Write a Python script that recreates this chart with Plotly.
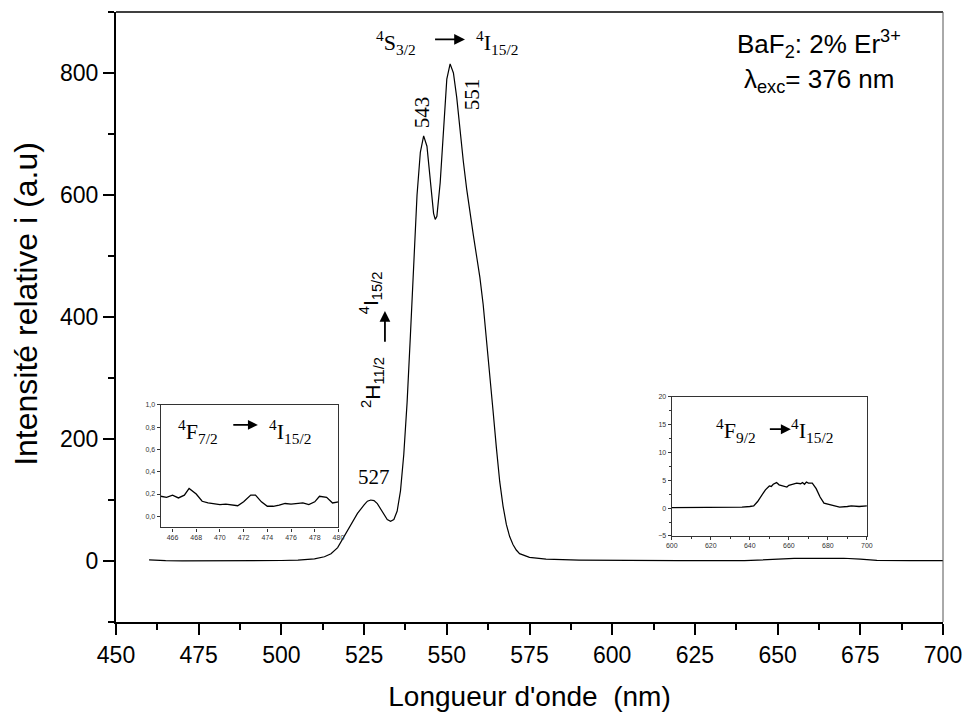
import plotly.graph_objects as go

# Emission spectrum of BaF2:2% Er3+ under 376 nm excitation
wavelength = [460, 462, 465, 470, 475, 480, 490, 500, 505, 510, 513, 515, 517, 519,
              521, 523, 525, 526, 527, 528, 529, 530, 531, 532, 533, 534, 535, 536,
              537, 538, 539, 540, 541, 542, 543, 544, 545, 546, 546.5, 547, 548, 549,
              550, 551, 552, 553, 554, 555, 556, 557, 558, 559, 560, 561, 562, 563,
              564, 565, 566, 567, 568, 569, 570, 571, 572, 575, 580, 590, 600, 620, 640,
              645, 650, 655, 660, 665, 670, 675, 680, 690, 700]
intensity = [2.0, 1.0, 0.5, 0.3, 0.2, 0.2, 0.3, 0.8, 1.5, 3.5, 7, 12, 22, 40,
             60, 78, 92, 98, 100, 99, 94, 85, 76, 68, 65, 68, 82, 115,
             175, 260, 370, 490, 600, 670, 697, 680, 620, 570, 560, 565, 620, 710,
             790, 815, 800, 760, 705, 655, 610, 570, 535, 500, 465, 420, 365, 305,
             245, 185, 130, 90, 60, 40, 27, 18, 12, 6, 3, 1.5, 1.0, 0.5, 0.5,
             1.5, 3.5, 4.2, 4.2, 4.5, 4.5, 3.0, 1.0, 0.5, 0.5]

# Detail of the 4F7/2 -> 4I15/2 band
wl_blue = [465, 465.5, 466, 466.5, 467, 467.4, 468, 468.5, 469, 469.5, 470, 470.5,
           471, 471.5, 472, 472.6, 473, 473.5, 474, 474.5, 475, 475.5, 476, 476.5,
           477, 477.5, 478, 478.4, 479, 479.5, 480]
int_blue = [0.18, 0.17, 0.19, 0.165, 0.19, 0.25, 0.2, 0.135, 0.12, 0.11, 0.105, 0.11,
            0.10, 0.095, 0.13, 0.19, 0.19, 0.13, 0.09, 0.09, 0.10, 0.115, 0.11, 0.115,
            0.12, 0.105, 0.13, 0.18, 0.17, 0.12, 0.13]

# Detail of the 4F9/2 -> 4I15/2 band
wl_red = [600, 604, 608, 612, 616, 620, 624, 628, 632, 636, 640, 642, 644, 646,
          648, 650, 651, 652, 653.7, 655, 656, 658, 659, 660, 662, 664, 666, 667,
          668, 669, 670, 672, 674, 676, 678, 680, 682, 684, 686, 690, 692, 696, 700]
int_red = [0.1, 0.1, 0.2, 0.1, 0.1, 0.2, 0.1, 0.1, 0.1, 0.2, 0.3, 0.4, 1.2, 2.2,
           3.3, 4.0, 3.9, 4.3, 4.6, 4.2, 4.1, 3.9, 3.8, 4.1, 4.3, 4.5, 4.4, 4.6,
           4.3, 4.7, 4.5, 4.5, 3.5, 2.0, 0.9, 0.7, 0.6, 0.3, 0.2, 0.3, 0.4, 0.3, 0.4]

x_ticks = [450, 475, 500, 525, 550, 575, 600, 625, 650, 675, 700]
y_ticks = [0, 200, 400, 600, 800]

SANS = "Liberation Sans, Arial, sans-serif"
SERIF = "Liberation Serif, Times New Roman, serif"

fig = go.Figure()
fig.add_trace(go.Scatter(x=wavelength, y=intensity, mode="lines",
                         line=dict(color="black", width=1.2), showlegend=False))
fig.add_trace(go.Scatter(x=wl_blue, y=int_blue, mode="lines", xaxis="x2", yaxis="y2",
                         line=dict(color="black", width=1.3), showlegend=False))
fig.add_trace(go.Scatter(x=wl_red, y=int_red, mode="lines", xaxis="x3", yaxis="y3",
                         line=dict(color="black", width=1.3), showlegend=False))

main_axis = dict(showline=True, linecolor="black", linewidth=2, ticks="outside",
                 ticklen=11, tickwidth=2, tickcolor="black", showgrid=False,
                 zeroline=False, automargin=False,
                 tickfont=dict(family=SANS, size=23, color="black"),
                 title_font=dict(family=SANS, size=28, color="black"))
inset_axis = dict(showline=True, linecolor="#333", linewidth=1.2, mirror=True,
                  ticks="outside", ticklen=3, tickwidth=1, tickcolor="#333",
                  showgrid=False, zeroline=False, automargin=False,
                  tickfont=dict(family=SANS, size=7, color="#333"))

fig.update_layout(
    width=964, height=713,
    margin=dict(l=116, r=21, t=12, b=91, autoexpand=False),
    paper_bgcolor="white", plot_bgcolor="white",
    font=dict(family=SANS, color="black"),
    separators=",.",
    xaxis=dict(main_axis, range=[450, 700], tickvals=x_ticks,
               minor=dict(dtick=12.5, ticks="outside", ticklen=6, tickwidth=2,
                          tickcolor="black"),
               title=dict(text="Longueur d'onde  (nm)", standoff=20)),
    yaxis=dict(main_axis, range=[-100, 900], tickvals=y_ticks,
               minor=dict(dtick=100, ticks="outside", ticklen=6, tickwidth=2,
                          tickcolor="black")),
    xaxis2=dict(inset_axis, domain=[0.054, 0.269], anchor="y2", range=[465, 480],
                tickvals=[466, 468, 470, 472, 474, 476, 478, 480]),
    yaxis2=dict(inset_axis, domain=[0.155, 0.356], anchor="x2", range=[-0.1, 1.0],
                tickvals=[0, 0.2, 0.4, 0.6, 0.8, 1.0], tickformat=".1f"),
    xaxis3=dict(inset_axis, domain=[0.672, 0.908], anchor="y3", range=[600, 700],
                tickvals=[600, 620, 640, 660, 680, 700],
                minor=dict(dtick=10, ticks="outside", ticklen=2, tickcolor="#333")),
    yaxis3=dict(inset_axis, domain=[0.141, 0.369], anchor="x3", range=[-5, 20],
                tickvals=[-5, 0, 5, 10, 15, 20],
                minor=dict(dtick=2.5, ticks="outside", ticklen=2, tickcolor="#333")),
)

# thin frame on the top and right of the main plot
fig.add_shape(type="line", xref="paper", yref="paper", x0=0, x1=1, y0=1, y1=1,
              line=dict(color="black", width=1.5))
fig.add_shape(type="line", xref="paper", yref="paper", x0=1, x1=1, y0=0, y1=1,
              line=dict(color="#555", width=1))

serif_big = dict(family=SERIF, size=22, color="black")
sans_big = dict(family=SANS, size=26, color="black")
sans_mid = dict(family=SANS, size=21, color="black")
serif_num = dict(family=SERIF, size=21, color="black")

annotations = [
    # y axis title, set slightly above the axis centre
    dict(x=-0.108, y=0.521, xref="paper", yref="paper", text="Intensité relative i (a.u)",
         textangle=-90, xanchor="center", yanchor="middle",
         font=dict(family=SANS, size=32, color="black")),
    # green transition
    dict(x=534.5, y=850, text="<sup>4</sup>S<sub>3/2</sub>", font=serif_big),
    dict(x=565.2, y=850, text="<sup>4</sup>I<sub>15/2</sub>", font=serif_big),
    dict(x=555.5, y=855, ax=546, ay=855, axref="x", ayref="y", text="",
         showarrow=True, arrowhead=2, arrowsize=1.2, arrowwidth=1.8, arrowcolor="black"),
    # peak labels
    dict(x=542.6, y=736, text="543", textangle=-90, font=serif_num),
    dict(x=557.6, y=765, text="551", textangle=-90, font=serif_num),
    dict(x=527.9, y=138, text="527", font=serif_num),
    # 2H11/2 transition, written vertically
    dict(x=527.7, y=292, text="<sup>2</sup>H<sub>11/2</sub>", textangle=-90, font=sans_mid),
    dict(x=526.8, y=439, text="<sup>4</sup>I<sub>15/2</sub>", textangle=-90, font=sans_mid),
    dict(x=531.3, y=410, ax=531.3, ay=357, axref="x", ayref="y", text="",
         showarrow=True, arrowhead=2, arrowsize=1.2, arrowwidth=1.8, arrowcolor="black"),
    # sample description
    dict(x=662.6, y=847, text="BaF<sub>2</sub>: 2% Er<sup>3+</sup>", font=sans_big),
    dict(x=662.6, y=788, text="λ<sub>exc</sub>= 376 nm", font=sans_big),
    # left inset label
    dict(x=468.15, y=0.76, xref="x2", yref="y2", text="<sup>4</sup>F<sub>7/2</sub>",
         font=serif_big),
    dict(x=475.9, y=0.76, xref="x2", yref="y2", text="<sup>4</sup>I<sub>15/2</sub>",
         font=serif_big),
    dict(x=473.2, y=0.82, ax=471.0, ay=0.82, xref="x2", yref="y2", axref="x2",
         ayref="y2", text="", showarrow=True, arrowhead=2, arrowsize=1.1,
         arrowwidth=1.8, arrowcolor="black"),
    # right inset label
    dict(x=632.9, y=14.0, xref="x3", yref="y3", text="<sup>4</sup>F<sub>9/2</sub>",
         font=serif_big),
    dict(x=672.0, y=14.0, xref="x3", yref="y3", text="<sup>4</sup>I<sub>15/2</sub>",
         font=serif_big),
    dict(x=661.0, y=14.2, ax=649.5, ay=14.2, xref="x3", yref="y3", axref="x3",
         ayref="y3", text="", showarrow=True, arrowhead=2, arrowsize=1.1,
         arrowwidth=1.8, arrowcolor="black"),
]
for a in annotations:
    a.setdefault("showarrow", False)
    a.setdefault("xref", "x")
    a.setdefault("yref", "y")
    fig.add_annotation(**a)

fig.write_html("out.html")
